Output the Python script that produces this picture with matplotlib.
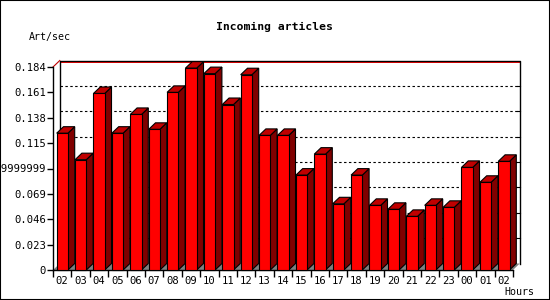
import matplotlib
matplotlib.use('Agg')
import matplotlib.pyplot as plt
from matplotlib.patches import Polygon, Rectangle

# ── data ──────────────────────────────────────────────────────────────────────
hours = ['02', '03', '04', '05', '06', '07', '08', '09', '10', '11', '12', '13',
         '14', '15', '16', '17', '18', '19', '20', '21', '22', '23', '00', '01', '02']
rates = [0.124, 0.100, 0.160, 0.124, 0.141, 0.1275, 0.161, 0.183, 0.178, 0.150,
         0.177, 0.122, 0.122, 0.086, 0.105, 0.060, 0.086, 0.0586, 0.055, 0.0486,
         0.0586, 0.0568, 0.093, 0.0795, 0.0985]
y_ticks = [0, 0.023, 0.046, 0.069, 0.092, 0.115, 0.138, 0.161, 0.184]
y_labels = ['0', '0.023', '0.046', '0.069', '0.0919999999', '0.115', '0.138', '0.161', '0.184']
y_max = 0.184

# ── geometry / styles ─────────────────────────────────────────────────────────
FRONT = '#ff0000'
SIDE = '#800000'
TOP = '#c00000'
FLOOR = '#808080'
n = len(hours)
px_x = n / 460.0          # data units per pixel
px_y = y_max / 203.0
DX = 6.8 * px_x           # 3d depth
DY = 6.5 * px_y
OFF, W = 0.2, 0.61

fig = plt.figure(figsize=(5.5, 3), dpi=100)
fig.patch.set_facecolor('white')
fig.patches.append(Rectangle((0, 0), 1, 1, transform=fig.transFigure, fill=False,
                             ec='black', lw=1.5))
mono = 'DejaVu Sans Mono'

ax = fig.add_axes([53 / 550, 30 / 300, 460 / 550, 203 / 300])
ax.set_xlim(0, n)
ax.set_ylim(0, y_max)
ax.patch.set_visible(False)
for s in ['top', 'right']:
    ax.spines[s].set_visible(False)
ax.spines['left'].set_linewidth(1)
ax.spines['bottom'].set_linewidth(1)

# back wall
ax.plot([DX, n + DX], [y_max + DY - 1.3 * px_y] * 2,
        color='red', lw=0.7, clip_on=False, zorder=1)
ax.plot([DX, DX, n + DX, n + DX], [DY, y_max + DY, y_max + DY, DY],
        color='black', lw=1, clip_on=False, zorder=1)
ax.plot([0, DX], [y_max, y_max + DY], color='#c00000', lw=0.8, clip_on=False, zorder=1)
for v in y_ticks[1:-1]:
    ax.plot([DX, n + DX], [v + DY, v + DY], color='black', lw=0.8,
            dashes=(2.2, 2.2), clip_on=False, zorder=1)
    ax.plot([n + DX - 3 * px_x, n + DX], [v + DY, v + DY], color='black', lw=0.8,
            clip_on=False, zorder=1)

# floor
ax.add_patch(Polygon([(0, 0), (n, 0), (n + DX, DY), (DX, DY)], closed=True,
                     fc=FLOOR, ec='none', clip_on=False, zorder=2))

# bars
for i, v in enumerate(rates):
    x0 = i + OFF
    x1 = x0 + W
    ax.add_patch(Polygon([(x1, 0), (x1 + DX, DY), (x1 + DX, v + DY), (x1, v)],
                         closed=True, fc=SIDE, ec='black', lw=0.8, clip_on=False, zorder=3))
    ax.add_patch(Polygon([(x0, v), (x1, v), (x1 + DX, v + DY), (x0 + DX, v + DY)],
                         closed=True, fc=TOP, ec='black', lw=0.8, clip_on=False, zorder=3))
    ax.add_patch(Rectangle((x0, 0), W, v, fc=FRONT, ec='black', lw=0.8,
                           clip_on=False, zorder=3))

# ticks
ax.set_yticks(y_ticks)
ax.set_yticklabels(y_labels, fontfamily=mono, fontsize=7.6)
ax.tick_params(axis='y', length=4, width=1, pad=1)
ax.set_xticks(range(n + 1))
ax.set_xticklabels([])
ax.set_xticks([i + 0.5 for i in range(n)], minor=True)
ax.set_xticklabels(hours, minor=True, fontfamily=mono, fontsize=7.6)
ax.tick_params(axis='x', which='major', length=5, width=1)
ax.tick_params(axis='x', which='minor', length=0, pad=4)

fig.text(274 / 550, 1 - 27 / 300, 'Incoming articles', ha='center', va='center',
         fontfamily=mono, fontsize=8.2, fontweight='bold')
fig.text(50 / 550, 1 - 37 / 300, 'Art/sec', ha='center', va='center',
         fontfamily=mono, fontsize=7.2)
fig.text(519 / 550, 1 - 292 / 300, 'Hours', ha='center', va='center',
         fontfamily=mono, fontsize=7.2)

fig.savefig('out.png', dpi=100)
